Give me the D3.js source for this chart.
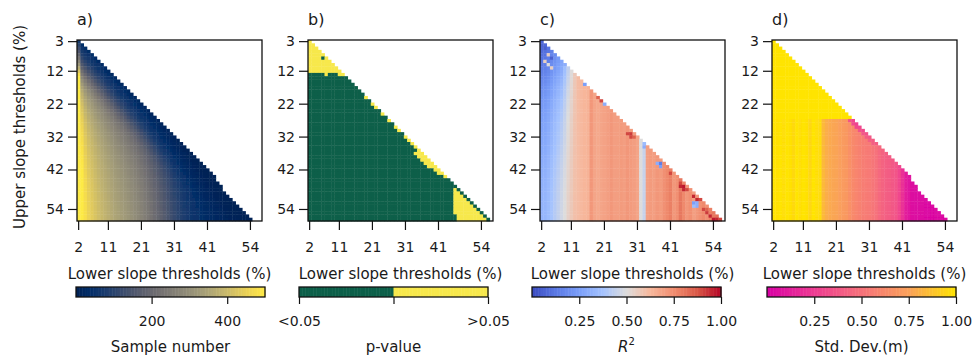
<!DOCTYPE html>
<html>
<head>
<meta charset="utf-8">
<script src="https://cdn.jsdelivr.net/npm/d3@7"></script>
<style>
    body { margin: 0; background: #ffffff; }
    text { font-family: "DejaVu Sans", sans-serif; fill: #1a1a1a; }
</style>
</head>
<body>
<svg id="fig" width="974" height="359"></svg>
<script>
// Slope thresholds (%) on both axes
var lowerThresholds = d3.range(2, 58);   // 2 .. 57
var upperThresholds = d3.range(3, 58);   // 3 .. 57
var lowerTicks = [2, 11, 21, 31, 41, 54];
var upperTicks = [3, 12, 22, 32, 42, 54];

// Highest lower threshold still drawn in each upper row (panels a and d), upper 3..57
var lastLower = [2, 3, 4, 5, 6, 7, 8, 9, 10, 11, 12, 13, 14, 15, 16, 17, 18, 19, 20, 21,
    22, 23, 24, 25, 26, 27, 28, 29, 30, 31, 32, 33, 34, 35, 36, 37, 38, 39, 40, 41,
    42, 43, 43, 44, 45, 45, 46, 47, 48, 49, 50, 51, 52, 53, 54];

// a) Sample number: level per lower threshold (2..57) and share reached by gap upper-lower (1..55)
var sampleByLower = [900, 520, 480, 455, 440, 425, 412, 400, 390, 380, 370, 360, 352, 344,
    336, 327, 318, 308, 298, 286, 272, 258, 243, 228, 212, 196, 180, 163, 147, 132, 118,
    105, 94, 84, 75, 67, 60, 54, 48, 44, 40, 37, 34, 32, 30, 29, 28, 27, 27, 26, 26, 25,
    25, 25, 25, 25];
var sampleShareByGap = [.08, .11, .14, .17, .21, .25, .30, .35, .41, .47, .53, .58, .63, .67,
    .70, .73, .75, .77, .79, .81, .82, .835, .85, .86, .87, .88, .89, .90, .905, .91, .92,
    .925, .93, .935, .94, .945, .95, .955, .96, .965, .97, .973, .976, .979, .982, .985,
    .988, .99, .992, .994, .996, .997, .998, .999, 1.0];
var sampleTicks = [200, 400];

// b) p-value: runs of cells with p > 0.05 as [upper, lowerFrom, lowerTo]; all other cells p < 0.05
var pAboveRuns = [[3, 2, 2], [4, 2, 3], [5, 2, 4], [6, 2, 5], [7, 2, 6], [8, 2, 5], [8, 7, 7],
    [9, 2, 8], [10, 2, 9], [11, 2, 10], [12, 2, 11], [13, 7, 7], [13, 11, 12],
    [20, 19, 19], [22, 21, 21], [23, 22, 22], [25, 24, 24], [27, 26, 26], [29, 28, 28],
    [30, 29, 29], [32, 31, 31], [33, 32, 32], [34, 33, 33], [35, 34, 34], [36, 35, 35],
    [37, 34, 36], [38, 35, 37], [39, 36, 38], [40, 37, 39], [41, 38, 40], [42, 40, 41],
    [43, 41, 42], [44, 43, 43], [48, 46, 46], [49, 46, 47], [50, 46, 48], [51, 46, 49],
    [52, 46, 50], [53, 46, 51], [54, 46, 52], [55, 46, 53], [56, 47, 54], [57, 47, 55]];
var pTickLabels = ["<0.05", "", ">0.05"];

// c) R2: value per lower threshold (2..57), row shift for the first columns, single cells
var r2ByLower = [.32, .33, .35, .38, .41, .44, .47, .50, .54, .57, .60, .61, .62, .63, .64,
    .72, .68, .67, .68, .69, .70, .72, .70, .70, .71, .70, .72, .71, .70, .68, .50, .45,
    .70, .71, .70, .72, .71, .74, .76, .78, .72, .74, .80, .76, .72, .74, .70, .72, .74,
    .76, .74, .78, .80, .82, .85, .85];
var r2ShiftByUpper = [-.25, -.25, -.24, -.23, -.22, -.21, -.20, -.19, -.18, -.17, -.16, -.15,
    -.14, -.13, -.12, -.115, -.11, -.10, -.095, -.09, -.085, -.08, -.075, -.07, -.065, -.06,
    -.058, -.055, -.052, -.05, -.047, -.044, -.04, -.037, -.034, -.03, -.027, -.024, -.022,
    -.02, -.018, -.016, -.014, -.012, -.01, -.008, -.006, -.005, -.004, -.003, -.002, -.001,
    0, 0, 0];
var r2ShiftWeight = [[2, 1], [3, 1], [4, 1], [5, 1], [6, 1], [7, 1], [8, 1], [9, .8], [10, .6],
    [11, .4], [12, .2]];
var r2Spots = [[3, 5, .05], [4, 7, .55], [3, 9, .55], [5, 8, .06], [4, 10, .5], [5, 11, .55],
    [9, 10, .3], [15, 16, .25], [19, 20, .85], [20, 21, .9], [21, 22, .3], [28, 31, .9],
    [29, 31, .92], [29, 32, .9], [30, 32, .85], [33, 34, .35], [33, 35, .3], [38, 40, .15],
    [37, 40, .3], [38, 41, .25], [41, 43, .9], [44, 46, .9], [44, 47, .95], [45, 47, .97],
    [45, 48, .95], [46, 48, .9], [48, 50, .95], [49, 51, .95], [50, 51, .9], [48, 52, .25],
    [49, 52, .3], [48, 53, .35], [49, 53, .3], [51, 54, .9], [52, 54, .85], [52, 55, .92],
    [53, 56, .95], [54, 57, .97], [55, 57, .95], [56, 57, .9]];
var unitTicks = [0.25, 0.5, 0.75, 1.0];

// d) Std. Dev. (normalised): value per lower threshold (2..57), saturated rows, diagonal cells
var stdByLower = [1.0, .99, 1.0, .98, 1.0, .99, .96, 1.0, .98, 1.0, .99, .95, 1.0, .98, .97,
    .84, .80, .78, .77, .76, .74, .72, .70, .66, .62, .60, .58, .56, .55, .54, .52, .50,
    .46, .43, .41, .40, .38, .36, .30, .20, .12, .08, .05, .04, .04, .04, .03, .03, .03,
    .03, .03, .03, .03, .03, .03, .03];
var stdSaturatedUpTo = 26;
var stdSpots = [[25, 27, .35], [26, 27, .3], [26, 28, .32], [27, 28, .28], [27, 29, .3],
    [28, 29, .3], [28, 30, .35], [29, 30, .32], [29, 31, .38], [30, 31, .35], [30, 32, .4],
    [31, 32, .38], [31, 33, .42], [32, 33, .4], [32, 34, .42], [33, 34, .4]];

// Colour maps
var pGreen = "#0c5f49", pYellow = "#f7e84c";
var coolwarm = d3.piecewise(d3.interpolateRgb,
    ["#3b4cc0", "#5a78e4", "#7b9ff9", "#a5c3fe", "#dddcdc", "#f7b89c", "#f18d6f",
     "#d95847", "#b40426"]);
var pinkYellow = d3.piecewise(d3.interpolateRgb,
    ["#d800a4", "#ee3c92", "#f6727b", "#faa15a", "#ffe400"]);

var svg = d3.select("#fig");

// soft edges like the original raster
svg.append("defs").append("filter")
    .attr("id", "soft")
    .append("feGaussianBlur")
    .attr("stdDeviation", 0.5);

// Layout of the four panels and their colour bars
var panelLeft = [77, 308, 540, 772];
var panelTop = 40, panelW = 185, panelH = 181;
var cbarLeft = [76, 299, 532, 767];
var cbarTop = 287, cbarW = 189, cbarH = 10;

var x = d3.scaleBand().domain(lowerThresholds).range([0, panelW]);
var y = d3.scaleBand().domain(upperThresholds).range([0, panelH]);

function lookup(pairs) {
    var m = new Map();
    pairs.forEach(function(p) { m.set(p[0] + "_" + p[1], p[2]); });
    return m;
}

// Build the triangle of cells: one per (lower, upper) with lower <= maxLower(upper)
function buildCells(maxLower, value) {
    var out = [];
    upperThresholds.forEach(function(u, ui) {
        lowerThresholds.forEach(function(l, li) {
            if (l <= maxLower(u, ui)) {
                out.push({l: l, u: u, v: value(l, u, li, ui)});
            }
        });
    });
    return out;
}

var fullTriangle = function(u) { return u - 1; };
var trimmedTriangle = function(u, ui) { return lastLower[ui]; };

// a)
var cellsA = buildCells(trimmedTriangle, function(l, u, li) {
    return sampleByLower[li] * sampleShareByGap[u - l - 1];
});

// b)
var pAbove = new Set();
pAboveRuns.forEach(function(r) {
    d3.range(r[1], r[2] + 1).forEach(function(l) { pAbove.add(l + "_" + r[0]); });
});
var cellsB = buildCells(fullTriangle, function(l, u) {
    return pAbove.has(l + "_" + u) ? 1 : 0;
});

// c)
var r2Weight = new Map(r2ShiftWeight);
var r2Spot = lookup(r2Spots);
var cellsC = buildCells(fullTriangle, function(l, u, li, ui) {
    var key = l + "_" + u;
    if (r2Spot.has(key)) return r2Spot.get(key);
    return r2ByLower[li] + (r2Weight.get(l) || 0) * r2ShiftByUpper[ui];
});

// d)
var stdSpot = lookup(stdSpots);
var cellsD = buildCells(trimmedTriangle, function(l, u, li) {
    var key = l + "_" + u;
    if (stdSpot.has(key)) return stdSpot.get(key);
    return u <= stdSaturatedUpTo ? 1.0 : stdByLower[li];
});

var sampleColor = d3.scaleSequential(d3.interpolateCividis).domain([0, 500]).clamp(true);
var pColor = function(v) { return v ? pYellow : pGreen; };
var r2Color = d3.scaleSequential(coolwarm).domain([0, 1]).clamp(true);
var stdColor = d3.scaleSequential(pinkYellow).domain([0, 1]).clamp(true);

var panels = [
    {label: "a)", cells: cellsA, color: sampleColor},
    {label: "b)", cells: cellsB, color: pColor},
    {label: "c)", cells: cellsC, color: r2Color},
    {label: "d)", cells: cellsD, color: stdColor}
];

function styleAxis(g) {
    g.select(".domain").remove();
    g.selectAll(".tick line").attr("stroke", "#111").attr("stroke-width", 1.2);
    g.selectAll(".tick text").attr("font-size", 14).attr("font-family", "DejaVu Sans")
        .attr("fill", "#1a1a1a");
}

panels.forEach(function(p, i) {
    var g = svg.append("g")
        .attr("transform", "translate(" + panelLeft[i] + "," + panelTop + ")");

    // Heatmap cells
    g.append("g")
        .attr("filter", "url(#soft)")
        .selectAll("rect")
        .data(p.cells)
        .enter()
        .append("rect")
        .attr("x", function(d) { return x(d.l); })
        .attr("y", function(d) { return y(d.u); })
        .attr("width", x.bandwidth() + 0.4)
        .attr("height", y.bandwidth() + 0.4)
        .attr("fill", function(d) { return p.color(d.v); });

    // Frame
    g.append("rect")
        .attr("width", panelW)
        .attr("height", panelH)
        .attr("fill", "none")
        .attr("stroke", "#111")
        .attr("stroke-width", 1.3);

    g.append("g")
        .call(d3.axisLeft(y).tickValues(upperTicks).tickSize(9).tickPadding(4))
        .call(styleAxis);

    g.append("g")
        .attr("transform", "translate(0," + panelH + ")")
        .call(d3.axisBottom(x).tickValues(lowerTicks).tickSize(9).tickPadding(12))
        .call(styleAxis);

    g.append("text")
        .attr("x", panelW / 2)
        .attr("y", 239)
        .attr("text-anchor", "middle")
        .attr("font-size", 15)
        .text("Lower slope thresholds (%)");

    g.append("text")
        .attr("x", 0)
        .attr("y", -15)
        .attr("font-size", 16)
        .text(p.label);
});

svg.append("text")
    .attr("transform", "translate(24.5,127) rotate(-90)")
    .attr("text-anchor", "middle")
    .attr("font-size", 15)
    .text("Upper slope thresholds (%)");

// Colour bars
function colorBar(i, domain, color, ticks, format) {
    var cb = d3.scaleLinear().domain(domain).range([0, cbarW]);
    var g = svg.append("g")
        .attr("transform", "translate(" + cbarLeft[i] + "," + cbarTop + ")");
    var n = 120, step = (domain[1] - domain[0]) / n;
    var steps = d3.range(n).map(function(k) { return domain[0] + k * step; });
    g.append("g").selectAll("rect")
        .data(steps)
        .enter()
        .append("rect")
        .attr("x", function(d) { return cb(d); })
        .attr("width", cb(domain[0] + step) - cb(domain[0]) + 0.5)
        .attr("height", cbarH)
        .attr("fill", function(d) { return color(d + step / 2); });
    g.append("rect")
        .attr("width", cbarW)
        .attr("height", cbarH)
        .attr("fill", "none")
        .attr("stroke", "#111")
        .attr("stroke-width", 1.3);
    g.append("g")
        .attr("transform", "translate(0," + cbarH + ")")
        .call(d3.axisBottom(cb).tickValues(ticks).tickFormat(format).tickSize(7).tickPadding(12))
        .call(styleAxis);
    return g;
}

function cbarTitle(g) {
    return g.append("text")
        .attr("x", cbarW / 2)
        .attr("y", 65)
        .attr("text-anchor", "middle")
        .attr("font-size", 15);
}

cbarTitle(colorBar(0, [0, 500], sampleColor, sampleTicks, d3.format("d")))
    .text("Sample number");

cbarTitle(colorBar(1, [0, 1], function(v) { return pColor(v >= 0.5 ? 1 : 0); }, [0, 0.5, 1],
    function(d, k) { return pTickLabels[k]; }))
    .text("p-value");

var r2Title = cbarTitle(colorBar(2, [0, 1], r2Color, unitTicks, d3.format(".2f")));
r2Title.append("tspan").attr("font-style", "italic").text("R");
r2Title.append("tspan").attr("font-size", 10).attr("dy", -7).text("2");

cbarTitle(colorBar(3, [0, 1], stdColor, unitTicks, d3.format(".2f")))
    .text("Std. Dev.(m)");
</script>
</body>
</html>
